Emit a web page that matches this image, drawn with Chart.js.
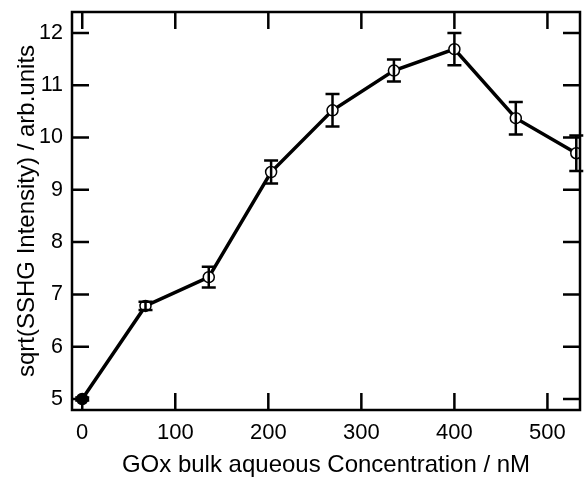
<!DOCTYPE html>
<html>
<head>
<meta charset="utf-8">
<script src="https://cdn.jsdelivr.net/npm/chart.js@4"></script>
<style>
  html, body { margin: 0; padding: 0; background: #fff; }
  #wrap { width: 587px; height: 480px; }
</style>
</head>
<body>
<div id="wrap"><canvas id="c" width="587" height="480"></canvas></div>
<script>
// data
const concentration = [0, 68, 136, 203, 269, 335, 400, 466, 531];
const sqrtIntensity = [5.0, 6.78, 7.33, 9.34, 10.52, 11.28, 11.69, 10.37, 9.7];
const errors = [0.03, 0.08, 0.2, 0.22, 0.31, 0.21, 0.31, 0.31, 0.34];
const xTicks = [0, 100, 200, 300, 400, 500];
const yTicks = [5, 6, 7, 8, 9, 10, 11, 12];

const FONT = '"Liberation Sans", Arial, Helvetica, sans-serif';

// frame, inward ticks on all four sides, error bars
const framePlugin = {
  id: 'frame',
  afterDatasetsDraw(chart) {
    const ctx = chart.ctx;
    const a = chart.chartArea;
    const xs = chart.scales.x, ys = chart.scales.y;
    ctx.save();
    ctx.strokeStyle = '#000';

    // error bars
    ctx.lineWidth = 2.5;
    concentration.forEach((cx, i) => {
      const px = xs.getPixelForValue(cx);
      const top = ys.getPixelForValue(sqrtIntensity[i] + errors[i]);
      const bot = ys.getPixelForValue(sqrtIntensity[i] - errors[i]);
      ctx.beginPath();
      ctx.moveTo(px, top); ctx.lineTo(px, bot);
      ctx.moveTo(px - 7, top); ctx.lineTo(px + 7, top);
      ctx.moveTo(px - 7, bot); ctx.lineTo(px + 7, bot);
      ctx.stroke();
    });

    // box
    ctx.lineWidth = 2.5;
    ctx.strokeRect(a.left, a.top, a.right - a.left, a.bottom - a.top);

    // ticks
    const len = 17;
    ctx.beginPath();
    xTicks.forEach(v => {
      const px = xs.getPixelForValue(v);
      ctx.moveTo(px, a.bottom); ctx.lineTo(px, a.bottom - len);
      ctx.moveTo(px, a.top); ctx.lineTo(px, a.top + len);
    });
    yTicks.forEach(v => {
      const py = ys.getPixelForValue(v);
      ctx.moveTo(a.left, py); ctx.lineTo(a.left + len, py);
      ctx.moveTo(a.right, py); ctx.lineTo(a.right - len, py);
    });
    ctx.stroke();
    ctx.restore();
  }
};

// no extra label padding so the plot box sits where the figure has it
function noPad(s) {
  s.paddingTop = 0; s.paddingBottom = 0;
  s.paddingLeft = 0; s.paddingRight = 0;
}

new Chart(document.getElementById('c'), {
  type: 'scatter',
  data: {
    datasets: [{
      data: concentration.map((x, i) => ({ x: x, y: sqrtIntensity[i] })),
      showLine: true,
      borderColor: '#000',
      borderWidth: 3.5,
      pointRadius: 5.5,
      pointBorderWidth: 1.5,
      pointBorderColor: '#000',
      pointBackgroundColor: concentration.map((x, i) => i === 0 ? '#000' : '#fff')
    }]
  },
  options: {
    responsive: false,
    animation: false,
    layout: { padding: { top: 12, right: 2, left: 0, bottom: 0 } },
    plugins: { legend: { display: false }, tooltip: { enabled: false } },
    scales: {
      x: {
        type: 'linear',
        min: -11,
        max: 535,
        afterBuildTicks: s => { s.ticks = xTicks.map(v => ({ value: v })); },
        afterFit: s => { s.height = 70; noPad(s); },
        grid: { display: false, drawTicks: false },
        border: { display: false },
        ticks: { color: '#000', padding: 10, font: { family: FONT, size: 22 } },
        title: {
          display: true,
          text: 'GOx bulk aqueous Concentration / nM',
          color: '#000',
          padding: { top: 0, bottom: 0 },
          font: { family: FONT, size: 24 }
        }
      },
      y: {
        type: 'linear',
        min: 4.79,
        max: 12.4,
        afterBuildTicks: s => { s.ticks = yTicks.map(v => ({ value: v })); },
        afterFit: s => { s.width = 72; noPad(s); },
        grid: { display: false, drawTicks: false },
        border: { display: false },
        ticks: { color: '#000', padding: 9, font: { family: FONT, size: 21.5 } },
        title: {
          display: true,
          text: 'sqrt(SSHG Intensity) / arb.units',
          color: '#000',
          padding: { top: 13, bottom: 13 },
          font: { family: FONT, size: 24 }
        }
      }
    }
  },
  plugins: [framePlugin]
});
</script>
</body>
</html>
